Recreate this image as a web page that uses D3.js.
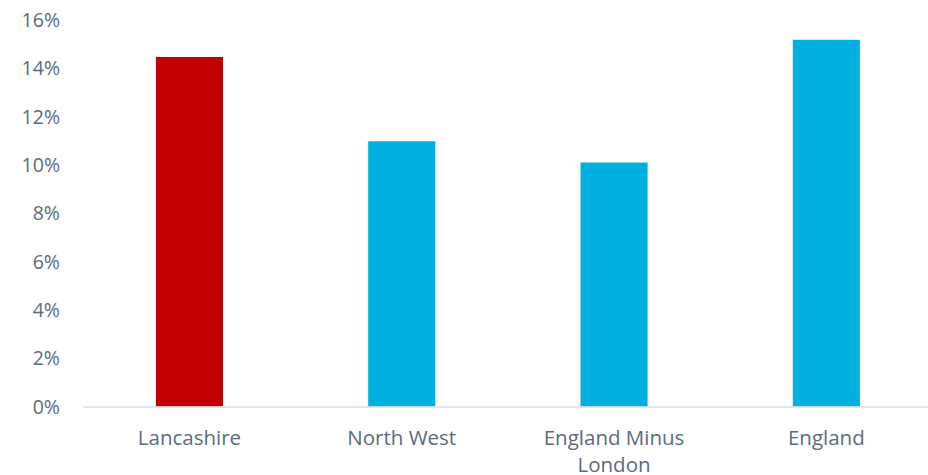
<!DOCTYPE html>
<html>
<head>
<meta charset="utf-8">
<script src="https://cdn.jsdelivr.net/npm/d3@7"></script>
<style>
  html, body { margin: 0; padding: 0; background: #fff; }
  svg text { font-family: "Open Sans", "Noto Sans", sans-serif; fill: #5a6b7e; }
</style>
</head>
<body>
<svg id="chart" width="928" height="475"></svg>
<script>
// Share of population by area
const categories = ["Lancashire", "North West", "England Minus London", "England"];
const values = [14.47, 10.98, 10.1, 15.18];
const barColors = ["#c00000", "#00b0de", "#00b0de", "#00b0de"];
const yTicks = [0, 2, 4, 6, 8, 10, 12, 14, 16];

const svg = d3.select("#chart");
const margin = { top: 20, left: 83.3, right: -4.5, bottom: 68.5 };
const W = 928, H = 475;

const x = d3.scaleBand()
  .domain(categories)
  .range([margin.left, W - margin.right])
  .paddingInner(0.684)
  .paddingOuter(0.342);

const y = d3.scaleLinear()
  .domain([0, 16])
  .range([H - margin.bottom, margin.top]);

// y tick labels (no gridlines, no axis line)
svg.append("g")
  .selectAll("text")
  .data(yTicks)
  .join("text")
  .attr("x", 60)
  .attr("y", d => y(d))
  .attr("dy", "0.36em")
  .attr("text-anchor", "end")
  .style("font-size", "19.5px")
  .text(d => d + "%");

// bars
svg.append("g")
  .selectAll("rect")
  .data(categories)
  .join("rect")
  .attr("x", d => x(d))
  .attr("width", x.bandwidth())
  .attr("y", (d, i) => y(values[i]))
  .attr("height", (d, i) => y(0) - y(values[i]))
  .attr("fill", (d, i) => barColors[i]);

// baseline
svg.append("line")
  .attr("x1", margin.left)
  .attr("x2", W)
  .attr("y1", y(0) + 0.5)
  .attr("y2", y(0) + 0.5)
  .attr("stroke", "#d6dde5")
  .attr("stroke-width", 1.5);

// category labels, wrapped to two lines where needed
const wrap = { "England Minus London": ["England Minus", "London"] };
const labels = svg.append("g")
  .selectAll("text")
  .data(categories)
  .join("text")
  .attr("text-anchor", "middle")
  .attr("x", d => x(d) + x.bandwidth() / 2)
  .attr("y", 445)
  .style("font-size", "20.5px");

labels.each(function(d) {
  const lines = wrap[d] || [d];
  const t = d3.select(this);
  lines.forEach((ln, i) => {
    t.append("tspan")
      .attr("x", x(d) + x.bandwidth() / 2)
      .attr("dy", i === 0 ? 0 : 27)
      .text(ln);
  });
});
</script>
</body>
</html>
